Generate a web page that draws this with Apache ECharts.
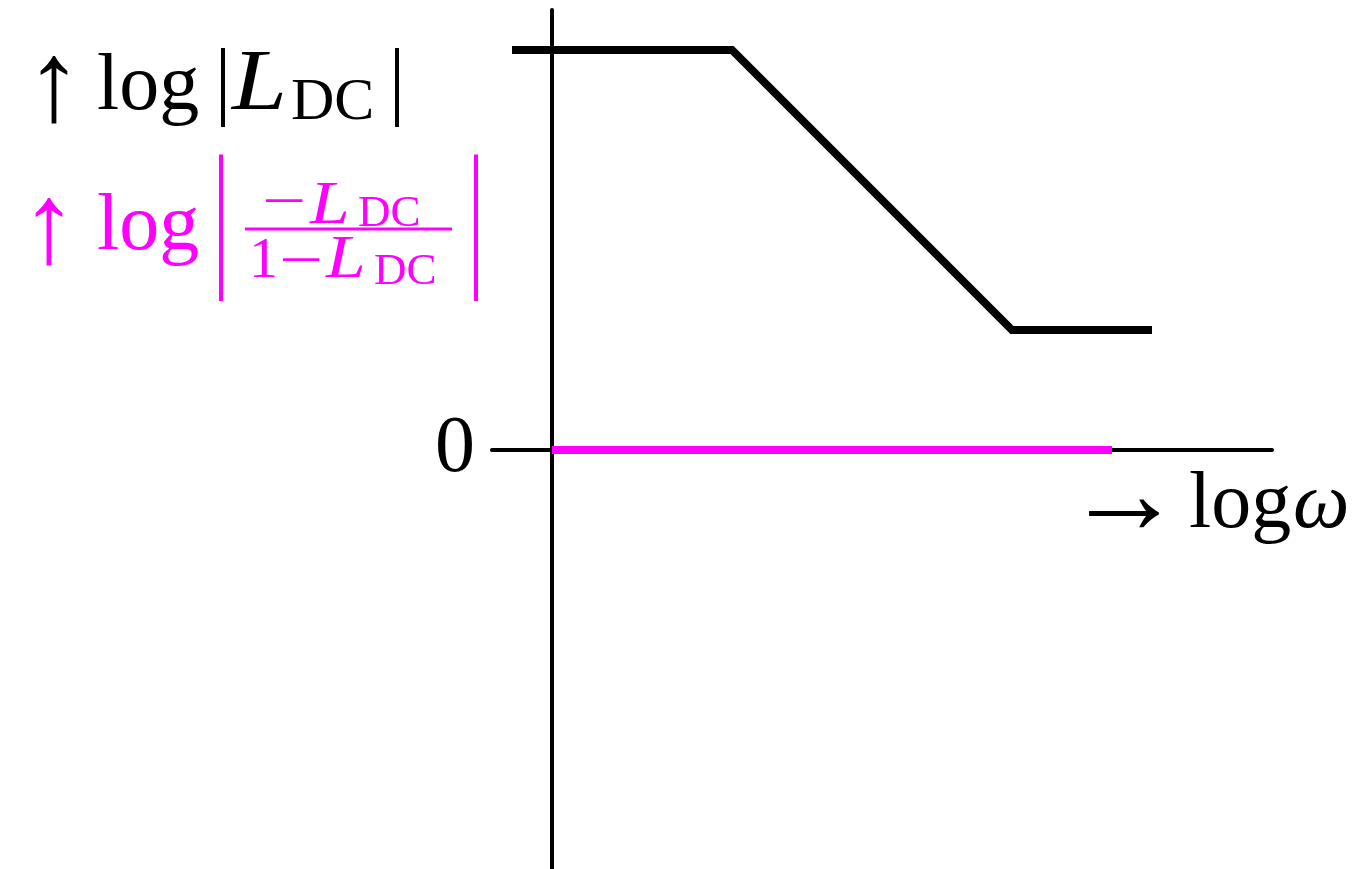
<!DOCTYPE html>
<html>
<head>
<meta charset="utf-8">
<script src="https://cdn.jsdelivr.net/npm/echarts@6/dist/echarts.min.js"></script>
<style>
  html, body { margin: 0; padding: 0; background: #fff; }
  #chart { width: 1369px; height: 869px; }
</style>
</head>
<body>
<div id="chart"></div>
<script>
// Asymptotic magnitude sketch (log-log), arbitrary units
const loopX = [-0.4, 1.8, 4.6, 6.0];      // log ω of the |L_DC| breakpoints
const loopY = [4.0, 4.0, 1.2, 1.2];       // log |L_DC|
const closedX = [0, 5.6];                 // log ω range of the closed-loop line
const closedY = [0, 0];                   // log |−L_DC/(1−L_DC)|
const yTickValues = [0];

const BLACK = '#000000';
const MAGENTA = '#ff00ff';
const SERIF = '"Liberation Serif", "DejaVu Serif", serif';
const MID = 0.27;   // distance from baseline up to the 'middle' anchor, in em

const chart = echarts.init(document.getElementById('chart'), null, { renderer: 'canvas' });

// text placed by its alphabetic baseline (or by its middle anchor with opts.mid)
function txt(str, x, base, size, color, opts) {
  opts = opts || {};
  return {
    type: 'text',
    x: x,
    y: opts.mid != null ? opts.mid : base - MID * size,
    scaleX: opts.scaleX || 1,
    scaleY: opts.scaleY || 1,
    z: 10,
    style: {
      text: str,
      x: 0, y: 0,
      font: (opts.italic ? 'italic ' : '') + size + 'px ' + SERIF,
      fill: color,
      textAlign: opts.align || 'left',
      verticalAlign: 'middle'
    }
  };
}

// a "|" delimiter stretched to span top..bottom
function bar(x, top, bottom, color) {
  const size = 80;
  const up = (0.694 - MID) * size;      // glyph top above the anchor
  const down = (0.217 + MID) * size;    // glyph bottom below the anchor
  const s = (bottom - top) / (up + down);
  return txt('|', x, 0, size, color, { align: 'center', scaleY: s, mid: top + up * s });
}

const graphics = [
  // ↑ log |L_DC|
  txt('\u2191', 54, 0, 114, BLACK, { align: 'center', mid: 90 }),
  txt('log', 97, 110, 80, BLACK),
  bar(223, 48, 127, BLACK),
  txt('L', 232, 110, 86, BLACK, { italic: true, scaleX: 1.15 }),
  txt('DC', 291, 119, 60, BLACK),
  bar(397, 48, 127, BLACK),

  // ↑ log | −L_DC / (1−L_DC) |
  txt('\u2191', 49, 0, 114, MAGENTA, { align: 'center', mid: 232 }),
  txt('log', 97, 250, 80, MAGENTA),
  bar(221, 157, 303, MAGENTA),
  txt('\u2212', 284, 0, 58, MAGENTA, { align: 'center', scaleX: 1.35, mid: 205 }),
  txt('L', 310, 223, 62, MAGENTA, { italic: true, scaleX: 1.15 }),
  txt('DC', 358, 226, 45, MAGENTA),
  {
    type: 'rect', z: 10,
    shape: { x: 245, y: 227.5, width: 207, height: 3 },
    style: { fill: MAGENTA }
  },
  txt('1', 249, 277, 58, MAGENTA),
  txt('\u2212', 301, 0, 58, MAGENTA, { align: 'center', scaleX: 1.35, mid: 264 }),
  txt('L', 326, 277, 62, MAGENTA, { italic: true, scaleX: 1.15 }),
  txt('DC', 374, 284, 45, MAGENTA),
  bar(476, 157, 303, MAGENTA),

  // → log ω
  txt('\u2192', 1124, 0, 118, BLACK, { align: 'center', mid: 502 }),
  txt('log', 1189, 528, 80, BLACK),
  txt('\u03c9', 1293, 528, 80, BLACK, { italic: true })
];

const option = {
  backgroundColor: '#ffffff',
  animation: false,
  grid: { left: 492, right: 97, top: 10, bottom: 0, containLabel: false },
  xAxis: {
    type: 'value',
    min: -0.6, max: 7.2,
    axisLine: { show: true, onZero: true, lineStyle: { color: BLACK, width: 4 } },
    axisTick: { show: false },
    axisLabel: { show: false },
    splitLine: { show: false }
  },
  yAxis: {
    type: 'value',
    min: -4.19, max: 4.4,
    axisLine: { show: true, onZero: true, lineStyle: { color: BLACK, width: 4 } },
    axisTick: { show: false },
    splitLine: { show: false },
    axisLabel: {
      show: true,
      customValues: yTickValues,
      margin: 17,
      color: BLACK,
      fontFamily: SERIF,
      fontSize: 80,
      formatter: v => String(v)
    }
  },
  series: [
    {
      type: 'line',
      data: loopX.map((x, i) => [x, loopY[i]]),
      symbol: 'none',
      lineStyle: { color: BLACK, width: 8, join: 'miter', cap: 'butt' },
      z: 3
    },
    {
      type: 'line',
      data: closedX.map((x, i) => [x, closedY[i]]),
      symbol: 'none',
      lineStyle: { color: MAGENTA, width: 8, cap: 'butt' },
      z: 4
    }
  ],
  graphic: graphics
};

chart.setOption(option);
</script>
</body>
</html>
